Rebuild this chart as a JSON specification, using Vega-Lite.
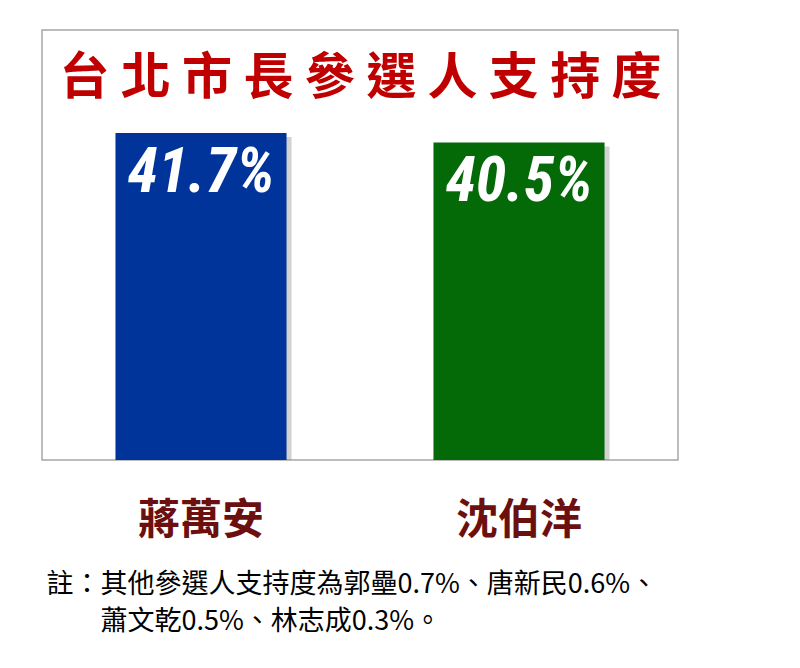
{
  "$schema": "https://vega.github.io/schema/vega-lite/v6.json",
  "width": 636,
  "height": 430,
  "autosize": {"type": "none"},
  "padding": {"left": 42, "top": 30, "right": 122, "bottom": 178},
  "background": "white",
  "config": {
    "view": {"stroke": "#A6A6A6", "strokeWidth": 1.5}
  },
  "data": {
    "values": [
      {"candidate": "蔣萬安", "support": 41.7, "label": "41.7%"},
      {"candidate": "沈伯洋", "support": 40.5, "label": "40.5%"}
    ]
  },
  "encoding": {
    "x": {
      "field": "candidate",
      "type": "nominal",
      "sort": null,
      "scale": {"paddingInner": 0.462, "paddingOuter": 0.231},
      "axis": {
        "title": ["註：其他參選人支持度為郭壘0.7%、唐新民0.6%、", "\u200b\u3000\u3000蕭文乾0.5%、林志成0.3%。"],
        "titleFont": "Noto Sans CJK TC",
        "titleFontSize": 27,
        "titleFontWeight": "normal",
        "titleColor": "black",
        "titleAnchor": "start",
        "titleAlign": "left",
        "titleX": 4,
        "titlePadding": 30,
        "titleLineHeight": 37,
        "labelAngle": 0,
        "labelFont": "Noto Sans CJK TC",
        "labelFontSize": 42,
        "labelFontWeight": "bold",
        "labelColor": "#6B0F0F",
        "labelPadding": 40,
        "ticks": false,
        "domain": false,
        "grid": false
      }
    },
    "y": {
      "field": "support",
      "type": "quantitative",
      "scale": {"domain": [0, 54.85]},
      "axis": {
        "title": "台 北 市 長 參 選 人 支 持 度",
        "titleFont": "Noto Sans CJK TC",
        "titleFontSize": 50,
        "titleFontWeight": "bold",
        "titleColor": "#C00000",
        "titleAngle": 0,
        "titleAlign": "center",
        "titleBaseline": "alphabetic",
        "titleX": 318,
        "titleY": 63,
        "labels": false,
        "ticks": false,
        "domain": false,
        "grid": false
      }
    }
  },
  "layer": [
    {
      "mark": {"type": "bar", "color": "#7F7F7F", "opacity": 0.35, "xOffset": 5, "yOffset": 4, "clip": true}
    },
    {
      "mark": {"type": "bar"},
      "encoding": {
        "color": {
          "field": "candidate",
          "type": "nominal",
          "scale": {"domain": ["蔣萬安", "沈伯洋"], "range": ["#00349A", "#046A08"]},
          "legend": null
        }
      }
    },
    {
      "mark": {
        "type": "text",
        "font": "Roboto Condensed, Liberation Sans",
        "fontWeight": "bold",
        "fontStyle": "italic",
        "fontSize": 62,
        "fill": "white",
        "baseline": "alphabetic",
        "dy": 59
      },
      "encoding": {
        "text": {"field": "label", "type": "nominal"}
      }
    }
  ]
}
